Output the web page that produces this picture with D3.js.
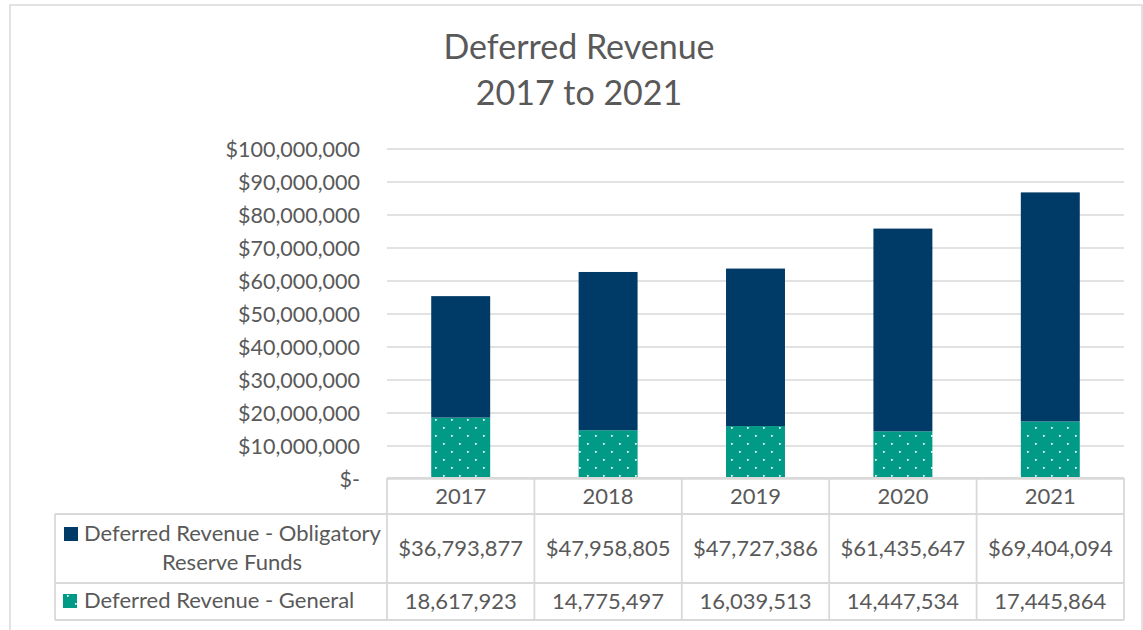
<!DOCTYPE html>
<html>
<head>
<meta charset="utf-8">
<script src="https://cdn.jsdelivr.net/npm/d3@7"></script>
<style>
  html, body { margin: 0; padding: 0; background: #fff; }
  svg { display: block; }
  text { font-family: Lato, "Open Sans", sans-serif; fill: #595959; }
</style>
</head>
<body>
<svg id="chart" width="1143" height="630"></svg>
<script>
const years = ["2017", "2018", "2019", "2020", "2021"];
const obligatory = [36793877, 47958805, 47727386, 61435647, 69404094];
const general = [18617923, 14775497, 16039513, 14447534, 17445864];
const seriesNames = ["Deferred Revenue - Obligatory", "Reserve Funds", "Deferred Revenue - General"];
const yTicks = [0, 10000000, 20000000, 30000000, 40000000, 50000000, 60000000, 70000000, 80000000, 90000000, 100000000];
const titleLines = ["Deferred Revenue", "2017 to 2021"];

const navy = "#003A66", teal = "#009A87", grid = "#d9d9d9";
const svg = d3.select("#chart");

// outer border
svg.append("rect").attr("x", 10).attr("y", 5).attr("width", 1132).attr("height", 640)
  .attr("fill", "none").attr("stroke", grid).attr("stroke-width", 1.5);

// pattern
const defs = svg.append("defs");
const pat = defs.append("pattern").attr("id", "dots").attr("patternUnits", "userSpaceOnUse")
  .attr("width", 16).attr("height", 16);
pat.append("rect").attr("width", 16).attr("height", 16).attr("fill", teal);
pat.append("rect").attr("x", 3).attr("y", 3).attr("width", 1.7).attr("height", 1.7).attr("fill", "#fff");
pat.append("rect").attr("x", 11).attr("y", 11).attr("width", 1.7).attr("height", 1.7).attr("fill", "#fff");

// title
svg.append("g").selectAll("text").data(titleLines).join("text")
  .attr("x", 579).attr("y", (d, i) => 59 + i * 46)
  .attr("text-anchor", "middle").attr("font-size", 34).text(d => d);

const left = 387, right = 1124;
const x = d3.scaleBand().domain(years).range([left, right]).paddingInner(0.6).paddingOuter(0.3);
const y = d3.scaleLinear().domain([0, 100000000]).range([479, 149]);

// gridlines
svg.append("g").selectAll("line").data(yTicks).join("line")
  .attr("x1", left).attr("x2", right)
  .attr("y1", d => y(d)).attr("y2", d => y(d))
  .attr("stroke", grid).attr("stroke-width", 1.5);

// y axis labels
const yAxis = d3.axisLeft(y).tickValues(yTicks).tickSize(0).tickPadding(0)
  .tickFormat(d => d === 0 ? "$-" : "$" + d3.format(",")(d));
const yg = svg.append("g").attr("transform", "translate(360,0)").call(yAxis);
yg.select(".domain").remove();
yg.selectAll("text").attr("font-size", 21.5).attr("fill", "#595959")
  .attr("font-family", "Lato, 'Open Sans', sans-serif").attr("dy", "0.36em");

// bars
const barG = svg.append("g");
barG.selectAll("rect.gen").data(years).join("rect").attr("class", "gen")
  .attr("x", d => x(d)).attr("width", x.bandwidth())
  .attr("y", (d, i) => y(general[i])).attr("height", (d, i) => y(0) - y(general[i]))
  .attr("fill", "url(#dots)");
barG.selectAll("rect.obl").data(years).join("rect").attr("class", "obl")
  .attr("x", d => x(d)).attr("width", x.bandwidth())
  .attr("y", (d, i) => y(general[i] + obligatory[i]))
  .attr("height", (d, i) => y(general[i]) - y(general[i] + obligatory[i]))
  .attr("fill", navy);

// data table
const step = x.step();
const colEdge = d3.range(years.length + 1).map(i => left + i * step);
const tTop = 478, r1 = 514, r2 = 583, tBot = 620, tLeft = 55;
const tg = svg.append("g").attr("stroke", grid).attr("stroke-width", 1.8);
tg.append("line").attr("x1", left).attr("x2", right).attr("y1", tTop).attr("y2", tTop);
[r1, r2, tBot].forEach(yy => tg.append("line").attr("x1", tLeft).attr("x2", right).attr("y1", yy).attr("y2", yy));
tg.selectAll("line.v").data(colEdge).join("line").attr("class", "v")
  .attr("x1", d => d).attr("x2", d => d).attr("y1", tTop).attr("y2", tBot);
tg.append("line").attr("x1", tLeft).attr("x2", tLeft).attr("y1", r1).attr("y2", tBot);

const txt = svg.append("g").attr("font-size", 22);
txt.selectAll("text.yr").data(years).join("text").attr("class", "yr")
  .attr("x", d => x(d) + x.bandwidth() / 2).attr("y", 504).attr("text-anchor", "middle").text(d => d);
txt.selectAll("text.v1").data(obligatory).join("text").attr("class", "v1")
  .attr("x", (d, i) => x(years[i]) + x.bandwidth() / 2).attr("y", 556).attr("text-anchor", "middle")
  .text(d => "$" + d3.format(",")(d));
txt.selectAll("text.v2").data(general).join("text").attr("class", "v2")
  .attr("x", (d, i) => x(years[i]) + x.bandwidth() / 2).attr("y", 609).attr("text-anchor", "middle")
  .text(d => d3.format(",")(d));

// legend keys and labels
svg.append("rect").attr("x", 64).attr("y", 527).attr("width", 14).attr("height", 14).attr("fill", navy);
svg.append("rect").attr("x", 63).attr("y", 594).attr("width", 14).attr("height", 14).attr("fill", "url(#dots)");
txt.append("text").attr("x", 84).attr("y", 541).text(seriesNames[0]);
txt.append("text").attr("x", 232).attr("y", 570).attr("text-anchor", "middle").text(seriesNames[1]);
txt.append("text").attr("x", 84).attr("y", 608).text(seriesNames[2]);
</script>
</body>
</html>
